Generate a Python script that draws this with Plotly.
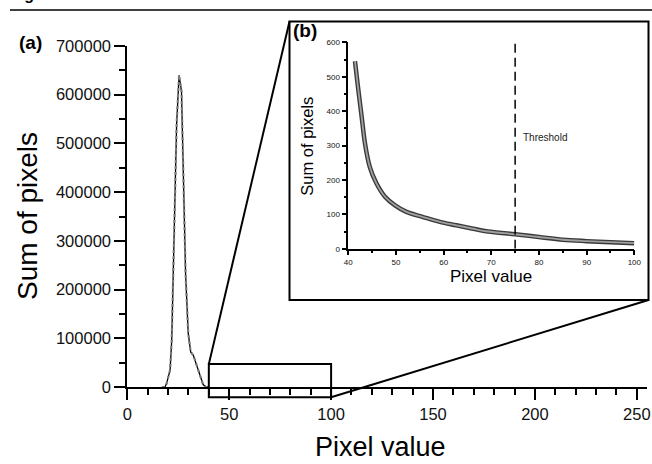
import plotly.graph_objects as go

W, H = 652, 464

# ---- data ----
main_x = [17.0, 18.5, 19.3, 21.0, 21.8, 22.9, 24.2, 25.4, 26.6, 27.5, 28.6, 29.9, 31.1, 32.4, 34.0, 35.6, 37.2, 38.5, 40.0]
main_y = [0, 0, 7500, 35000, 96000, 300000, 539000, 640000, 607000, 437000, 232000, 110000, 72000, 65000, 45000, 21000, 5000, 0, 0]

inset_x = [41.4, 42.1, 42.8, 43.5, 44.5, 45.9, 47.7, 49.8, 52.2, 55.7, 59.2, 62.7, 66.2, 69.3, 75, 80, 85, 90, 95, 100]
inset_y = [545, 462, 384, 306, 238, 190, 151, 126, 107, 92, 78, 68, 58, 50, 42, 34, 26, 22, 19, 16]

threshold = 75
zoom_x = [40, 100]
zoom_y = [-21000, 47000]

FONT = "Liberation Sans, Arial, sans-serif"

def fx(p):
    return p / W

def fy(p):
    return 1 - p / H

MX0, MX1 = 127.3, 647.0
MXR = [0, 255]
MY0, MY1 = 387.0, 46.0
MYR = [0, 700000]

def main_px_x(v):
    return MX0 + (v - MXR[0]) / (MXR[1] - MXR[0]) * (MX1 - MX0)

def main_px_y(v):
    return MY0 - (v - MYR[0]) / (MYR[1] - MYR[0]) * (MY0 - MY1)

IX0, IX1 = 348.3, 634.3
IY0, IY1 = 248.7, 42.3
FRAME = (289.5, 21.5, 648.5, 300.0)

fig = go.Figure()

fig.add_trace(go.Scatter(x=main_x, y=main_y, mode="lines",
                         line=dict(color="black", width=1.3),
                         xaxis="x", yaxis="y", hoverinfo="skip"))
fig.add_trace(go.Scatter(x=main_x, y=main_y, mode="lines",
                         line=dict(color="#7a7a7a", width=2.2, dash="dot"),
                         xaxis="x", yaxis="y", hoverinfo="skip"))

fig.add_trace(go.Scatter(x=inset_x, y=inset_y, mode="lines",
                         line=dict(color="#3a3a3a", width=4.5, shape="spline"),
                         xaxis="x2", yaxis="y2", hoverinfo="skip"))
fig.add_trace(go.Scatter(x=inset_x, y=inset_y, mode="lines",
                         line=dict(color="#a0a0a0", width=1.8, shape="spline"),
                         xaxis="x2", yaxis="y2", hoverinfo="skip"))

axis_common = dict(showline=True, linecolor="black", showgrid=False, zeroline=False,
                   ticks="outside", tickcolor="black", fixedrange=True, automargin=False)

fig.update_layout(
    width=W, height=H,
    margin=dict(l=0, r=0, t=0, b=0, pad=0, autoexpand=False),
    paper_bgcolor="white",
    plot_bgcolor="rgba(0,0,0,0)",
    showlegend=False,
    font=dict(family=FONT, color="black"),
    xaxis=dict(domain=[fx(MX0), fx(MX1)], range=MXR, anchor="y",
               linewidth=2, ticklen=11, tickwidth=2, tick0=0, dtick=50,
               minor=dict(ticks="outside", ticklen=6, tickwidth=2, dtick=10, tickcolor="black"),
               tickfont=dict(size=16.5, family=FONT, color="#111"), **axis_common),
    yaxis=dict(domain=[fy(MY0), fy(MY1)], range=MYR, anchor="x",
               linewidth=2, ticklen=11, tickwidth=2, tick0=0, dtick=100000,
               tickformat="d",
               minor=dict(ticks="outside", ticklen=6, tickwidth=2, dtick=50000, tickcolor="black"),
               tickfont=dict(size=16.5, family=FONT, color="#111"), **axis_common),
    xaxis2=dict(domain=[fx(IX0), fx(IX1)], range=[40, 100], anchor="y2",
                linewidth=1.5, ticklen=5, tickwidth=1.5, tick0=40, dtick=10,
                minor=dict(ticks="outside", ticklen=3, tickwidth=1.5, dtick=5, tickcolor="black"),
                tickfont=dict(size=8, family=FONT, color="#111"), **axis_common),
    yaxis2=dict(domain=[fy(IY0), fy(IY1)], range=[0, 600], anchor="x2",
                linewidth=1.5, ticklen=5, tickwidth=1.5, tick0=0, dtick=100,
                minor=dict(ticks="outside", ticklen=3, tickwidth=1.5, dtick=50, tickcolor="black"),
                tickfont=dict(size=8, family=FONT, color="#111"), **axis_common),
)

shapes = []
shapes.append(dict(type="line", xref="paper", yref="paper",
                   x0=fx(10), x1=fx(652), y0=fy(10), y1=fy(10),
                   line=dict(color="black", width=1.5)))
fx0, fy0, fx1, fy1 = FRAME
shapes.append(dict(type="rect", xref="paper", yref="paper",
                   x0=fx(fx0), x1=fx(fx1), y0=fy(fy1), y1=fy(fy0),
                   line=dict(color="black", width=2), fillcolor="rgba(0,0,0,0)"))
rx0, rx1 = main_px_x(zoom_x[0]), main_px_x(zoom_x[1])
ry0, ry1 = main_px_y(zoom_y[0]), main_px_y(zoom_y[1])
shapes.append(dict(type="rect", xref="paper", yref="paper",
                   x0=fx(rx0), x1=fx(rx1), y0=fy(ry0), y1=fy(ry1),
                   line=dict(color="black", width=2), fillcolor="rgba(0,0,0,0)"))
shapes.append(dict(type="line", xref="paper", yref="paper",
                   x0=fx(rx0), y0=fy(ry1), x1=fx(fx0), y1=fy(fy0),
                   line=dict(color="black", width=2)))
shapes.append(dict(type="line", xref="paper", yref="paper",
                   x0=fx(rx1), y0=fy(ry0), x1=fx(fx1), y1=fy(fy1),
                   line=dict(color="black", width=2)))
shapes.append(dict(type="line", xref="x2", yref="y2",
                   x0=threshold, x1=threshold, y0=0, y1=600,
                   line=dict(color="black", width=1.5, dash="9px,5px")))
fig.update_layout(shapes=shapes)

def note(text, x, y, size, angle=0, xanchor="center", yanchor="middle", xref="paper", yref="paper", color="black"):
    return dict(text=text, x=x, y=y, xref=xref, yref=yref, textangle=angle,
                xanchor=xanchor, yanchor=yanchor, showarrow=False,
                font=dict(size=size, family=FONT, color=color))

ann = [
    note("Sum of pixels", fx(28), fy(216), 28, angle=-90),
    note("Pixel value", fx(380), fy(447), 27),
    note("Sum of pixels", fx(306.7), fy(146), 16.5, angle=-90),
    note("Pixel value", fx(490.7), fy(276), 17),
    note("<b>(a)</b>", fx(30), fy(42), 19),
    note("<b>(b)</b>", fx(305), fy(30), 19),
    note("Threshold", 76.3, 323, 10, xanchor="left", xref="x2", yref="y2", color="#222"),
    note("<b>Fig. 5</b>", fx(8), fy(-5), 16, xanchor="left"),
]
fig.update_layout(annotations=ann)

fig.write_html("out.html", post_script="document.body.style.margin='0';")
